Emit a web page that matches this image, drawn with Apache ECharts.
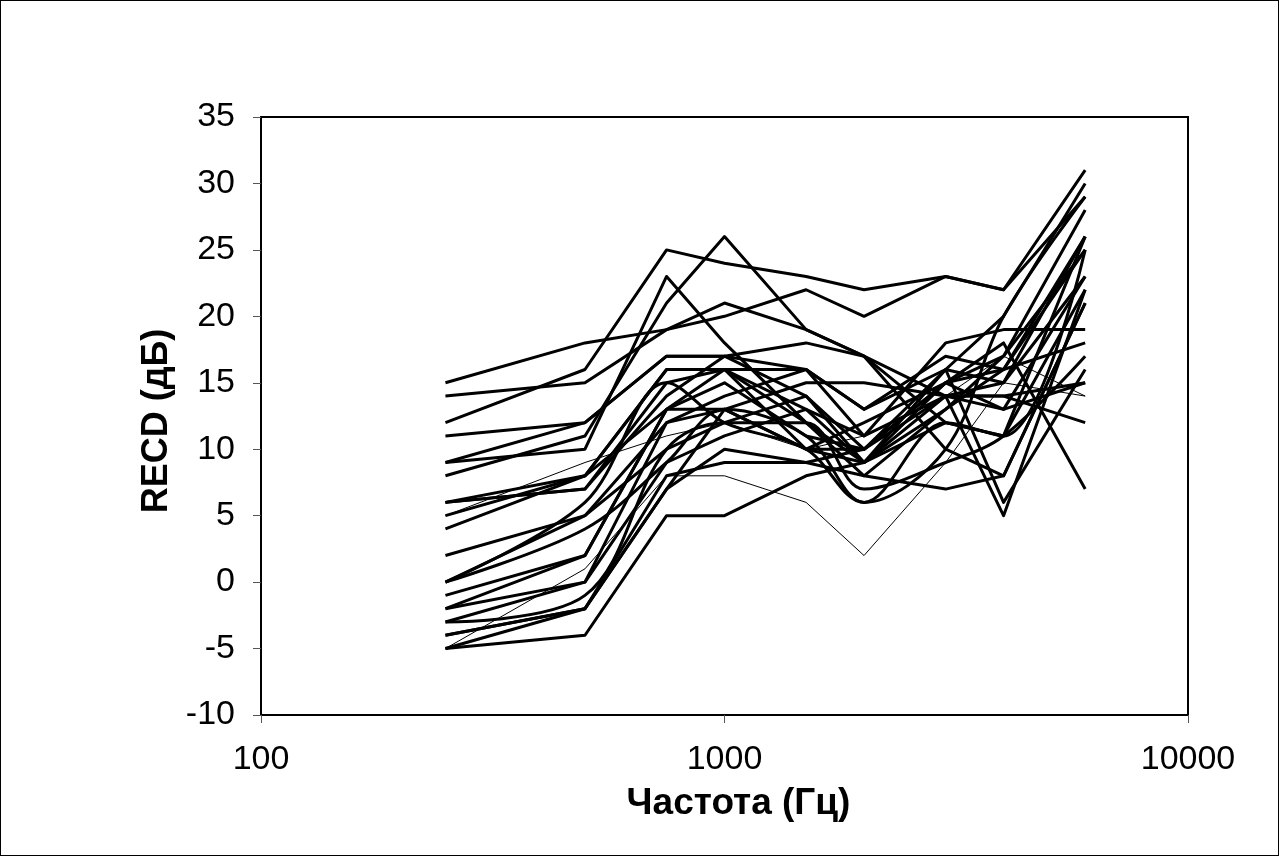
<!DOCTYPE html>
<html>
<head>
<meta charset="utf-8">
<script src="https://cdn.jsdelivr.net/npm/echarts@6/dist/echarts.min.js"></script>
<style>
  html, body { margin: 0; padding: 0; background: #fff; }
  #chart { width: 1279px; height: 856px; box-sizing: border-box; border: 1px solid #000; }
</style>
</head>
<body>
<div id="chart"></div>
<script>
// Test frequencies (Hz), shared by every ear
const freqs = [250, 500, 750, 1000, 1500, 2000, 3000, 4000, 6000];

// RECD curves (dB), one per ear
const ear01 = [15, 18, 19, 21, 19, 17, 14, 15, 23];
const ear02 = [14, 15, 19, 20, 22, 20, 23, 22, 29];
const ear03 = [12, 16, 25, 24, 23, 22, 23, 22, 31];
const ear04 = [11, 12, 17, 17, 16, 13, 17, 16, 26];
const ear05 = [9, 10, 23, 18, 12, 9, 16, 20, 30];
const ear06 = [8, 11, 21, 26, 19, 17, 12, 11, 22];
const ear07 = [9, 12, 17, 17, 18, 17, 10, 8, 21];
const ear08 = [6, 8, 16, 16, 16, 11, 18, 19, 19];
const ear09 = [6, 7, 14, 17, 14, 10, 15, 18, 7];
const ear10 = [6, 7, 15, 16, 13, 11, 14, 14, 12];
const ear11 = [5, 8, 13, 13, 15, 15, 14, 13, 15];
const ear12 = [4, 8, 16, 16, 12, 8, 13, 17, 28];
const ear13 = [2, 5, 12, 14, 16, 13, 16, 15, 26];
const ear14 = [0, 5, 10, 12, 14, 9, 15, 16, 25];
const ear15 = [0, 4, 9, 13, 11, 6, 12, 11, 25];
const ear16 = [-1, 2, 13, 16, 10, 10, 15, 13, 23];
const ear17 = [-2, 2, 13, 15, 11, 10, 14, 5, 22];
const ear18 = [-3, 0, 9, 11, 13, 9, 13, 16, 18];
const ear19 = [-3, -1, 10, 12, 12, 7, 9, 11, 17];
const ear20 = [-4, -2, 7, 10, 9, 10, 16, 6, 16];
const ear21 = [-4, -2, 8, 9, 9, 8, 7, 8, 21];
const ear22 = [-5, -4, 5, 5, 8, 9, 12, 11, 26];
const ear23 = [-5, -2, 7, 13, 10, 12, 15, 17, 25];
const ear24 = [-2, 0, 12, 13, 10, 9, 14, 14, 15];
const ear25 = [0, 6, 15, 12, 10, 6, 10, 20, 29];
const ear26 = [-5, 1, 8, 8, 6, 2, 9, 15, 14];
const ear27 = [5, 9, 11, 12, 10, 11, 14, 17, 14];

const curves = [ear01, ear02, ear03, ear04, ear05, ear06, ear07, ear08, ear09,
  ear10, ear11, ear12, ear13, ear14, ear15, ear16, ear17, ear18, ear19, ear20,
  ear21, ear22, ear23, ear24, ear25, ear26, ear27];
// these two are drawn with a hairline in the original
const thinCurves = [ear26, ear27];
// a few curves were plotted smoothed (rounded dip near 2 kHz)
const smoothCurves = [ear15, ear19, ear25];

const yTicks = { min: -10, max: 35, step: 5 };
const xTicks = { min: 100, max: 10000 };

const font = 'Arial, "Liberation Sans", sans-serif';

const chart = echarts.init(document.getElementById('chart'), null, { renderer: 'canvas' });

chart.setOption({
  animation: false,
  backgroundColor: '#fff',
  grid: {
    left: 260, top: 116, width: 927, height: 598,
    show: true, borderColor: '#000', borderWidth: 2, backgroundColor: '#fff',
  },
  xAxis: {
    type: 'log',
    logBase: 10,
    min: xTicks.min,
    max: xTicks.max,
    name: 'Частота (Гц)',
    nameLocation: 'middle',
    nameGap: 70,
    nameTextStyle: { fontFamily: font, fontSize: 37, fontWeight: 'bold', color: '#000', padding: [0, 0, 0, 28] },
    axisLine: { onZero: false, lineStyle: { color: '#000', width: 2 } },
    axisTick: { inside: false, length: 8, lineStyle: { color: '#555', width: 1 } },
    minorTick: { show: false },
    splitLine: { show: false },
    axisLabel: { fontFamily: font, fontSize: 34, color: '#000', margin: 28, formatter: (v) => String(v) },
  },
  yAxis: {
    type: 'value',
    min: yTicks.min,
    max: yTicks.max,
    interval: yTicks.step,
    name: 'RECD (дБ)',
    nameLocation: 'middle',
    nameGap: 77,
    nameTextStyle: { fontFamily: font, fontSize: 36, fontWeight: 'bold', color: '#000', padding: [0, 10, 0, 0] },
    axisLine: { show: true, onZero: false, lineStyle: { color: '#000', width: 2 } },
    axisTick: { show: true, inside: false, length: 8, lineStyle: { color: '#555', width: 1 } },
    splitLine: { show: false },
    axisLabel: { fontFamily: font, fontSize: 34, color: '#000', margin: 26 },
  },
  series: curves.map((vals, i) => ({
    name: 'ear' + (i + 1),
    type: 'line',
    symbol: 'none',
    silent: true,
    smooth: smoothCurves.includes(vals) ? 0.35 : false,
    data: freqs.map((f, k) => [f, vals[k]]),
    lineStyle: {
      color: '#000',
      width: thinCurves.includes(vals) ? 1 : 3,
      join: 'round',
    },
  })),
});
</script>
</body>
</html>
